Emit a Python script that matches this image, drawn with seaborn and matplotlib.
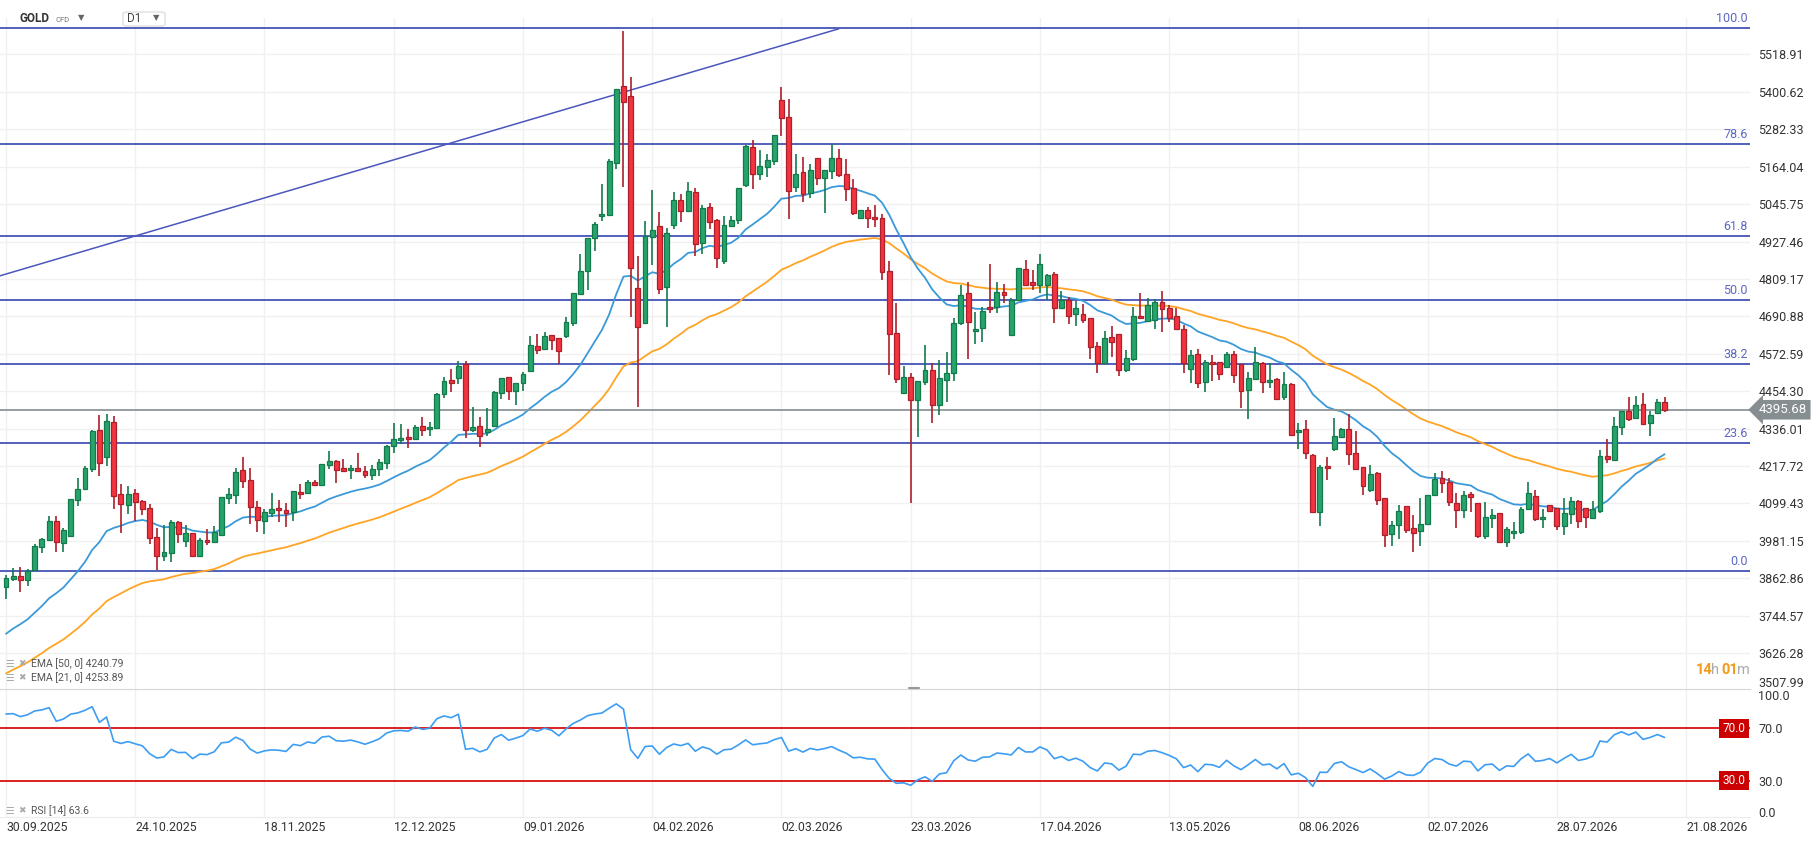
import numpy as np
import matplotlib
matplotlib.use('Agg')
import matplotlib.pyplot as plt
import matplotlib.transforms as mtransforms
from matplotlib.patches import FancyBboxPatch
import seaborn as sns

# GOLD CFD, D1 candles, first bar = 30.09.2025
opens = [3834, 3860, 3869, 3856, 3889, 3961, 3984, 4043, 3973, 3998, 4109, 4144,
         4207, 4331, 4245, 4356, 4128, 4094, 4133, 4106, 4084, 3992, 3932, 3942,
         4040, 3980, 4005, 3932, 3984, 3977, 3999, 4116, 4125, 4204, 4173, 4087,
         4043, 4068, 4084, 4078, 4071, 4135, 4131, 4166, 4157, 4220, 4233, 4211,
         4204, 4211, 4201, 4188, 4207, 4226, 4280, 4299, 4309, 4302, 4343, 4334,
         4337, 4444, 4489, 4495, 4539, 4331, 4343, 4324, 4343, 4448, 4498, 4454,
         4479, 4517, 4596, 4587, 4631, 4621, 4628, 4669, 4761, 4833, 4938, 5007,
         5010, 5175, 5418, 5386, 4781, 4669, 4941, 4976, 4783, 4979, 5058, 5023,
         5083, 4922, 5036, 4994, 4865, 4976, 4994, 5105, 5225, 5140, 5162, 5181,
         5374, 5320, 5099, 5146, 5080, 5190, 5127, 5149, 5190, 5140, 5096, 5001,
         5026, 5004, 5001, 4833, 4637, 4448, 4498, 4425, 4482, 4520, 4410, 4489,
         4511, 4669, 4764, 4644, 4653, 4719, 4719, 4767, 4631, 4742, 4840, 4798,
         4789, 4789, 4824, 4716, 4742, 4697, 4697, 4685, 4596, 4542, 4625, 4634,
         4520, 4555, 4691, 4675, 4678, 4735, 4716, 4691, 4650, 4526, 4571, 4482,
         4546, 4546, 4530, 4571, 4539, 4457, 4494, 4542, 4482, 4492, 4435, 4476,
         4324, 4334, 4252, 4071, 4217, 4271, 4309, 4334, 4258, 4214, 4141, 4195,
         4116, 4002, 4030, 4090, 4021, 4011, 4034, 4125, 4179, 4166, 4100, 4078,
         4128, 4100, 3998, 4052, 4068, 3977, 4005, 4008, 4081, 4122, 4049, 4094,
         4084, 4027, 4065, 4106, 4084, 4052, 4075, 4248, 4236, 4340, 4391, 4369,
         4413, 4353, 4384, 4419]
highs = [3872, 3894, 3898, 3891, 3970, 3990, 4060, 4060, 4021, 4115, 4181, 4219,
         4332, 4379, 4382, 4376, 4161, 4155, 4145, 4110, 4098, 4022, 4031, 4047,
         4043, 4030, 4005, 3989, 4018, 4028, 4119, 4147, 4211, 4246, 4211, 4106,
         4081, 4132, 4109, 4100, 4138, 4161, 4173, 4173, 4223, 4265, 4236, 4239,
         4220, 4258, 4217, 4220, 4239, 4283, 4353, 4350, 4334, 4346, 4372, 4356,
         4448, 4498, 4523, 4549, 4549, 4403, 4372, 4400, 4454, 4495, 4498, 4479,
         4514, 4628, 4634, 4640, 4631, 4621, 4688, 4764, 4887, 4938, 4989, 5109,
         5187, 5411, 5593, 5447, 4881, 4991, 5089, 5020, 4969, 5083, 5077, 5115,
         5096, 5042, 5048, 4998, 5007, 5007, 5096, 5232, 5247, 5216, 5203, 5263,
         5415, 5377, 5203, 5194, 5172, 5190, 5153, 5235, 5219, 5187, 5124, 5026,
         5036, 5042, 5013, 4866, 4732, 4533, 4511, 4486, 4599, 4542, 4552, 4577,
         4685, 4789, 4798, 4704, 4719, 4855, 4798, 4792, 4748, 4843, 4869, 4836,
         4887, 4824, 4830, 4770, 4751, 4738, 4729, 4685, 4609, 4644, 4659, 4634,
         4584, 4719, 4764, 4748, 4745, 4770, 4726, 4716, 4664, 4585, 4587, 4552,
         4568, 4546, 4577, 4580, 4539, 4516, 4593, 4546, 4542, 4495, 4516, 4479,
         4353, 4362, 4255, 4220, 4245, 4369, 4337, 4381, 4327, 4214, 4220, 4198,
         4116, 4043, 4094, 4090, 4062, 4116, 4125, 4195, 4201, 4179, 4132, 4138,
         4135, 4100, 4103, 4081, 4068, 4024, 4040, 4087, 4166, 4141, 4081, 4094,
         4084, 4116, 4119, 4109, 4084, 4106, 4267, 4302, 4372, 4391, 4435, 4438,
         4448, 4391, 4429, 4435]
lows = [3796, 3855, 3821, 3840, 3889, 3944, 3983, 3947, 3947, 3995, 4093, 4144,
        4200, 4187, 4219, 4083, 4007, 4067, 4044, 4063, 3971, 3889, 3919, 3916,
        3976, 3963, 3932, 3932, 3967, 3976, 3999, 4099, 4099, 4147, 4034, 4008,
        4002, 4057, 4040, 4024, 4043, 4113, 4131, 4154, 4154, 4207, 4165, 4198,
        4176, 4198, 4179, 4173, 4185, 4207, 4258, 4286, 4274, 4302, 4312, 4312,
        4337, 4432, 4451, 4476, 4305, 4324, 4277, 4312, 4340, 4429, 4425, 4410,
        4454, 4517, 4571, 4587, 4584, 4539, 4621, 4659, 4757, 4773, 4899, 4991,
        5010, 5156, 5101, 4688, 4403, 4666, 4854, 4761, 4656, 4966, 4988, 5020,
        4881, 4887, 4966, 4843, 4855, 4972, 4982, 5099, 5092, 5121, 5130, 5168,
        5260, 4998, 5083, 5051, 5064, 5105, 5017, 5124, 5130, 5055, 5010, 4998,
        4969, 4972, 4805, 4504, 4479, 4448, 4100, 4308, 4473, 4353, 4378, 4419,
        4486, 4663, 4555, 4602, 4609, 4700, 4700, 4732, 4631, 4742, 4786, 4773,
        4764, 4742, 4669, 4716, 4666, 4659, 4669, 4555, 4511, 4539, 4561, 4501,
        4514, 4549, 4685, 4675, 4650, 4640, 4672, 4647, 4513, 4481, 4466, 4453,
        4488, 4491, 4530, 4479, 4402, 4368, 4491, 4450, 4463, 4428, 4425, 4317,
        4271, 4239, 4068, 4027, 4173, 4264, 4309, 4220, 4204, 4125, 4135, 4094,
        3961, 3964, 3986, 4005, 3945, 3964, 4034, 4122, 4132, 4093, 4023, 4055,
        4074, 3989, 3986, 4023, 3973, 3961, 3986, 4002, 4078, 4043, 4023, 4071,
        4015, 3999, 4034, 4023, 4021, 4049, 4068, 4226, 4233, 4315, 4359, 4365,
        4346, 4312, 4384, 4388]
closes = [3863, 3869, 3856, 3887, 3964, 3987, 4043, 3977, 4015, 4113, 4144, 4211,
          4329, 4226, 4359, 4124, 4097, 4128, 4103, 4081, 3989, 3932, 3945, 4040,
          4002, 4005, 3932, 3983, 3977, 4008, 4119, 4128, 4198, 4169, 4087, 4046,
          4071, 4081, 4078, 4068, 4138, 4128, 4166, 4157, 4223, 4233, 4204, 4201,
          4211, 4201, 4188, 4207, 4230, 4280, 4302, 4305, 4302, 4340, 4331, 4340,
          4444, 4486, 4479, 4533, 4331, 4340, 4312, 4334, 4451, 4495, 4454, 4479,
          4508, 4599, 4584, 4628, 4615, 4580, 4672, 4764, 4833, 4938, 4983, 5013,
          5181, 5411, 5367, 4845, 4656, 4945, 4963, 4776, 4953, 5058, 5023, 5086,
          4919, 5032, 4988, 4874, 4979, 4994, 5096, 5228, 5140, 5165, 5184, 5263,
          5317, 5086, 5140, 5077, 5153, 5127, 5153, 5190, 5137, 5092, 5017, 5026,
          5001, 4998, 4830, 4634, 4492, 4498, 4425, 4486, 4520, 4410, 4495, 4511,
          4669, 4757, 4672, 4650, 4707, 4713, 4767, 4757, 4742, 4843, 4789, 4789,
          4855, 4821, 4716, 4742, 4691, 4716, 4678, 4593, 4542, 4621, 4609, 4520,
          4558, 4691, 4685, 4726, 4735, 4713, 4685, 4650, 4545, 4568, 4479, 4546,
          4539, 4508, 4571, 4505, 4454, 4497, 4546, 4482, 4489, 4431, 4476, 4317,
          4331, 4258, 4071, 4214, 4211, 4312, 4334, 4255, 4207, 4154, 4192, 4109,
          3999, 4030, 4075, 4015, 4005, 4034, 4125, 4176, 4163, 4105, 4078, 4125,
          4119, 3998, 4056, 4062, 3977, 4018, 4011, 4081, 4132, 4049, 4056, 4075,
          4027, 4068, 4106, 4043, 4056, 4081, 4248, 4239, 4343, 4391, 4365, 4410,
          4350, 4378, 4419, 4396]

date_labels = ['30.09.2025', '24.10.2025', '18.11.2025', '12.12.2025', '09.01.2026',
               '04.02.2026', '02.03.2026', '23.03.2026', '17.04.2026', '13.05.2026',
               '08.06.2026', '02.07.2026', '28.07.2026', '21.08.2026']
bars_per_label = 18

price_ticks = [3626.28, 3744.57, 3862.86, 3981.15, 4099.43, 4217.72, 4336.01,
               4454.30, 4572.59, 4690.88, 4809.17, 4927.46, 5045.75, 5164.04,
               5282.33, 5400.62, 5518.91]
price_tick_labels = ['3626.28', '3744.57', '3862.86', '3981.15', '4099.43', '4217.72',
                     '4336.01', '4454.30', '4572.59', '4690.88', '4809.17', '4927.46',
                     '5045.75', '5164.04', '5282.33', '5400.62', '5518.91']
price_bottom_label = '3507.99'

fib_levels = [0.0, 23.6, 38.2, 50.0, 61.8, 78.6, 100.0]
fib_low = 3887.0
fib_high = 5601.0

trend_x = [-1, 116]
trend_y = [4818, 5600]

last_price = 4395.68
ema50_value = '4240.79'
ema21_value = '4253.89'
rsi_value = '63.6'

ema21_start = 3670.0
ema50_start = 3550.0
rsi_gain_start = 30.0
rsi_loss_start = 7.0

# ---- indicators ----
c = np.array(closes, dtype=float)
o = np.array(opens, dtype=float)
h = np.array(highs, dtype=float)
l = np.array(lows, dtype=float)
n = len(c)
idx = np.arange(n)


def ema(values, period, start):
    out = []
    e = start
    a = 2.0 / (period + 1)
    for v in values:
        e = e + a * (v - e)
        out.append(e)
    return np.array(out)


ema21 = ema(c, 21, ema21_start)
ema50 = ema(c, 50, ema50_start)

g, lo_ = rsi_gain_start, rsi_loss_start
rsi = [100 * g / (g + lo_)]
for k in range(1, n):
    d = c[k] - c[k - 1]
    g = (g * 13 + max(d, 0)) / 14
    lo_ = (lo_ * 13 + max(-d, 0)) / 14
    rsi.append(100 * g / (g + lo_))
rsi = np.array(rsi)

# ---- figure ----
sns.set_style('white')
plt.rcParams['font.family'] = ['Roboto', 'DejaVu Sans']

W, H = 1818, 843
fig = plt.figure(figsize=(W / 100, H / 100), dpi=100)
ax = fig.add_axes([0, (H - 689) / H, 1750 / W, (689 - 18) / H])
axr = fig.add_axes([0, (H - 817) / H, 1750 / W, (817 - 689) / H], sharex=ax)

xmin, xmax = -6 / 7.18, (1750 - 6) / 7.18
grid_c = '#f0f0f0'
txt_c = '#333333'

# candles
green, green_edge = '#27a46c', '#137a4c'
red, red_edge = '#f2343f', '#ad1f2b'
up = c >= o
body_h = np.abs(c - o)
body_lo = np.minimum(o, c)
small = body_h < 4
body_lo[small] = (o[small] + c[small]) / 2 - 2
body_h = np.maximum(body_h, 4)
for mask, fc, ec in [(up, green, green_edge), (~up, red, red_edge)]:
    ax.vlines(idx[mask], l[mask], h[mask], color=ec, lw=1.2, zorder=3)
    ax.bar(idx[mask], body_h[mask], bottom=body_lo[mask], width=0.68,
           color=fc, edgecolor=ec, linewidth=0.9, zorder=4)

# EMAs
sns.lineplot(x=idx, y=ema50, ax=ax, color='#ffa424', lw=1.3, zorder=2)
sns.lineplot(x=idx, y=ema21, ax=ax, color='#3a9ad9', lw=1.3, zorder=2)

# fibonacci lines + trend line
tr = mtransforms.blended_transform_factory(ax.transAxes, ax.transData)
for lev in fib_levels:
    p = fib_low + (fib_high - fib_low) * lev / 100
    ax.axhline(p, color='#3346b0', lw=1.2, zorder=1)
    lab = ax.annotate(f'{lev:.1f}', xy=(0.9985, p), xycoords=tr, xytext=(0, 3),
                      textcoords='offset pixels', ha='right', va='bottom',
                      color='#5b68c4', fontsize=9)
    lab.set_clip_on(True)
sns.lineplot(x=trend_x, y=trend_y, ax=ax, color='#4a56bd', lw=1.1, zorder=1)

# last price line and tag
ax.axhline(last_price, color='#8d9598', lw=1.3, zorder=2)
ax.annotate(f'{last_price:.2f}', xy=(1, last_price), xycoords=tr, xytext=(9, 0),
            textcoords='offset pixels', ha='left', va='center', color='white',
            fontsize=9.5, annotation_clip=False,
            bbox=dict(boxstyle='larrow,pad=0.25', fc='#868e92', ec='none'))

ax.set_xlim(xmin, xmax)
ax.set_ylim(3513.0, 5634.0)
ax.yaxis.tick_right()
ax.set_yticks(price_ticks)
ax.set_yticklabels(price_tick_labels)
ax.tick_params(axis='y', length=0, pad=6, labelsize=9, labelcolor=txt_c)
ax.annotate(price_bottom_label, xy=(1, 3507.99), xycoords=tr, xytext=(8, 7),
            textcoords='offset pixels', ha='left', va='center', fontsize=9,
            color=txt_c, annotation_clip=False)
ax.grid(True, axis='y', color=grid_c, lw=1)
tick_pos = [k * bars_per_label for k in range(len(date_labels))]
ax.set_xticks(tick_pos)
ax.grid(True, axis='x', color=grid_c, lw=1)
ax.tick_params(axis='x', length=0, labelbottom=False)
for s in ax.spines.values():
    s.set_visible(False)
ax.set_xlabel('')
ax.set_ylabel('')

# RSI panel
sns.lineplot(x=idx, y=rsi, ax=axr, color='#3d9df3', lw=1.2, zorder=3)
trr = mtransforms.blended_transform_factory(axr.transAxes, axr.transData)
for lev in (70, 30):
    axr.axhline(lev, color='#d81010', lw=1.3, zorder=2)
    axr.text(0.9975, lev, f'{lev:.1f}', transform=trr, ha='right', va='center',
             color='white', fontsize=8.5, zorder=5,
             bbox=dict(boxstyle='square,pad=0.28', fc='#cc0000', ec='none'))
axr.set_ylim(2.15, 100.2)
axr.yaxis.tick_right()
axr.set_yticks([70, 30])
axr.set_yticklabels(['70.0', '30.0'])
axr.tick_params(axis='y', length=0, pad=6, labelsize=9, labelcolor=txt_c)
axr.annotate('100.0', xy=(1, 100), xycoords=trr, xytext=(8, -7),
             textcoords='offset pixels', ha='left', va='center', fontsize=9,
             color=txt_c, annotation_clip=False)
axr.annotate('0.0', xy=(1, 0), xycoords=trr, xytext=(8, 6),
             textcoords='offset pixels', ha='left', va='center', fontsize=9,
             color=txt_c, annotation_clip=False)
axr.set_xticks(tick_pos)
axr.set_xticklabels(date_labels, ha='left')
axr.tick_params(axis='x', length=0, pad=3, labelsize=8.8, labelcolor=txt_c)
axr.grid(True, axis='x', color=grid_c, lw=1)
for s in axr.spines.values():
    s.set_visible(False)
axr.spines['top'].set_visible(True)
axr.spines['top'].set_color('#d6d6d6')
axr.spines['bottom'].set_visible(True)
axr.spines['bottom'].set_color('#ececec')
axr.set_xlabel('')
axr.set_ylabel('')
axr.set_xlim(xmin, xmax)


def fx(px):
    return px / W


def fy(py):
    return 1 - py / H


# header
fig.text(fx(20), fy(19), 'GOLD', fontsize=8.5, fontweight='bold', color='#333',
         va='center', ha='left')
fig.text(fx(55), fy(20), 'CFD', fontsize=5.5, color='#777', va='center', ha='left')
fig.text(fx(78), fy(18), '▼', fontsize=6, color='#666', va='center', ha='left',
         family='DejaVu Sans')
fig.patches.append(FancyBboxPatch((fx(123), fy(26)), fx(42), 14 / H,
                                  boxstyle='round,pad=0,rounding_size=0.002',
                                  transform=fig.transFigure, fc='white',
                                  ec='#d8d8d8', lw=0.8))
fig.text(fx(127), fy(19), 'D1', fontsize=8.5, color='#444', va='center', ha='left')
fig.text(fx(153), fy(18), '▼', fontsize=6, color='#666', va='center', ha='left',
         family='DejaVu Sans')

# indicator legends
for ypx, txt in [(664, f'EMA [50, 0] {ema50_value}'), (678, f'EMA [21, 0] {ema21_value}'),
                 (811, f'RSI [14] {rsi_value}')]:
    fig.text(fx(5), fy(ypx), '☰', fontsize=7, color='#aaa', va='center',
             ha='left', family='DejaVu Sans')
    fig.text(fx(18), fy(ypx), '✖', fontsize=6.5, color='#aaa', va='center',
             ha='left', family='DejaVu Sans')
    fig.text(fx(31), fy(ypx), txt, fontsize=7.5, color='#555', va='center', ha='left')

# candle timer
fig.text(fx(1696), fy(670), '14', fontsize=10.5, fontweight='bold', color='#f39a1d',
         va='center', ha='left')
fig.text(fx(1711), fy(670), 'h', fontsize=10.5, color='#aaa', va='center', ha='left')
fig.text(fx(1721), fy(670), '01', fontsize=10.5, fontweight='bold', color='#f39a1d',
         va='center', ha='left')
fig.text(fx(1737), fy(670), 'm', fontsize=10.5, color='#aaa', va='center', ha='left')

# panel resize handle
fig.add_artist(plt.Line2D([fx(909), fx(919)], [fy(688), fy(688)], color='#999',
                          lw=1.5, transform=fig.transFigure))

fig.savefig('out.png', dpi=100)
